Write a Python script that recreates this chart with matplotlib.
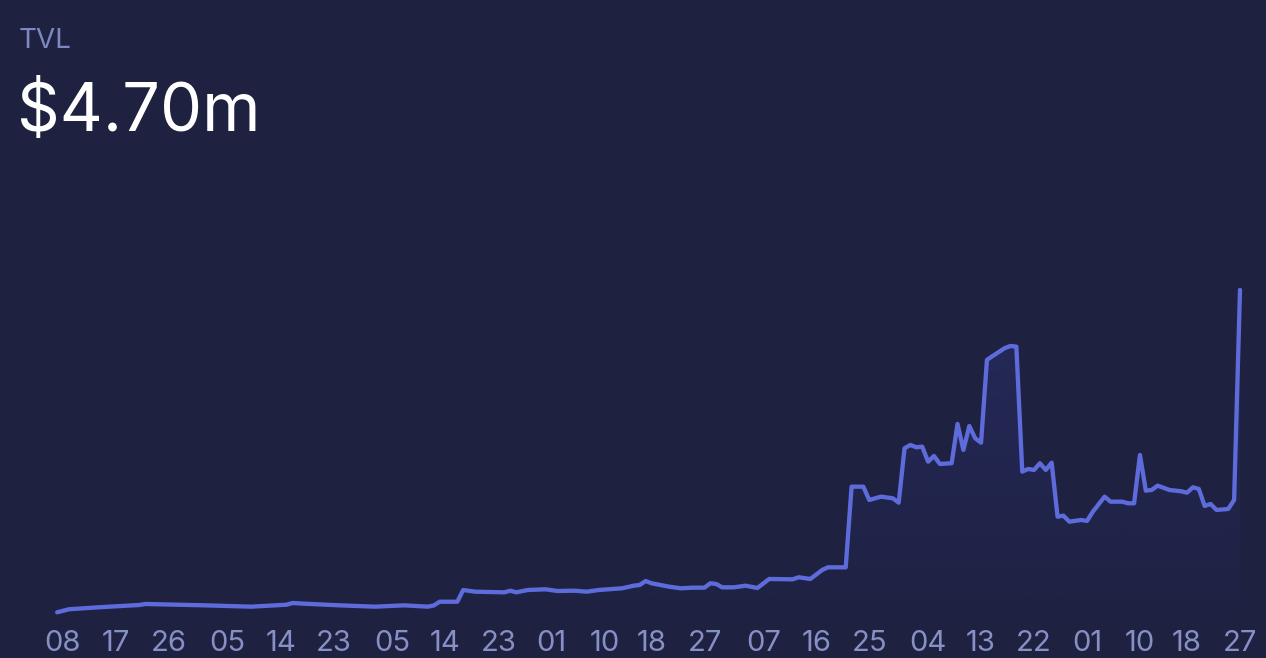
import numpy as np
import matplotlib
matplotlib.use("Agg")
import matplotlib.pyplot as plt
import matplotlib.dates as mdates
from matplotlib.patches import Polygon

# TVL in $m; days counted from 2023-01-08
start = np.datetime64("2023-01-08")
days = [-1, 1, 6, 13, 14, 24, 32, 38, 39, 41, 47, 53, 58, 62, 63, 64, 67,
        68, 70, 75, 76, 77, 79, 82, 84, 87, 89, 91, 95, 97, 98, 99, 100,
        103, 105, 107, 109, 110, 111, 112, 114, 116, 118, 120, 124, 125,
        127, 129, 130, 133, 134, 136, 137, 139, 141, 142, 143, 144, 145,
        146, 147, 148, 149, 151, 152, 153, 154, 155, 156, 157, 158, 160,
        161, 162, 163, 164, 165, 166, 167, 168, 169, 170, 171, 173, 174,
        175, 177, 178, 180, 181, 182, 183, 184, 185, 186, 188, 190, 191,
        192, 193, 194, 195, 196, 198, 199, 200]
tvl = [0.137, 0.180, 0.208, 0.241, 0.255, 0.236, 0.217, 0.245, 0.269, 0.259,
       0.236, 0.217, 0.236, 0.217, 0.234, 0.287, 0.287,
       0.453, 0.429, 0.420, 0.443, 0.420, 0.453, 0.463, 0.439, 0.443, 0.429,
       0.453, 0.477, 0.514, 0.524, 0.580, 0.548,
       0.500, 0.477, 0.486, 0.486, 0.548, 0.538, 0.491, 0.491, 0.514, 0.481,
       0.609, 0.604, 0.633,
       0.609, 0.736, 0.774, 0.774, 1.915, 1.915, 1.727, 1.774, 1.751, 1.689,
       2.459, 2.506, 2.473,
       2.482, 2.269, 2.350, 2.237, 2.247, 2.803, 2.435, 2.775, 2.601, 2.538,
       3.709, 3.766, 3.875,
       3.907, 3.897, 2.128, 2.166, 2.152, 2.247, 2.152, 2.255, 1.491, 1.505,
       1.420, 1.444, 1.430,
       1.562, 1.774, 1.703, 1.703, 1.680, 1.680, 2.364, 1.859, 1.869, 1.930,
       1.869, 1.850, 1.830,
       1.907, 1.883, 1.642, 1.671, 1.586, 1.600, 1.727, 4.70]

tick_days = [0, 9, 18, 28, 37, 46, 56, 65, 74, 83, 92, 100, 109, 119, 128,
             137, 147, 156, 165, 174, 183, 191, 200]

bg = "#1e2140"
line_color = "#5d6bdb"
muted = "#8690c4"

dates = start + np.array(days).astype("timedelta64[D]")
ticks = start + np.array(tick_days).astype("timedelta64[D]")
x = mdates.date2num(dates)

fig = plt.figure(figsize=(12.66, 6.58), dpi=100, facecolor=bg)
ax = fig.add_axes([40 / 1266, 36 / 658, 1220 / 1266, 472 / 658])
ax.set_facecolor(bg)

ax.plot(x, tvl, color=line_color, lw=3.1, solid_joinstyle="round",
        solid_capstyle="round", zorder=3)

# soft gradient under the line
ymax = 6.68
x0 = mdates.date2num(start) + (40 - 63) / 5.885
x1 = mdates.date2num(start) + (1260 - 63) / 5.885
grad = np.linspace(0, 1, 256).reshape(-1, 1)
rgba = np.zeros((256, 1, 4))
rgba[..., :3] = matplotlib.colors.to_rgb("#2a3170")
rgba[..., 3] = 0.55 * grad[:, :1] ** 0.8
im = ax.imshow(rgba, extent=[x.min(), x.max(), 0, max(tvl)], origin="lower",
               aspect="auto", zorder=1)
poly = Polygon(np.column_stack([np.r_[x[0], x, x[-1]],
                                np.r_[0, tvl, 0]]), closed=True,
               transform=ax.transData, facecolor="none", edgecolor="none")
ax.add_patch(poly)
im.set_clip_path(poly)

ax.set_xlim(x0, x1)
ax.set_ylim(0, ymax)
ax.set_xticks(mdates.date2num(ticks))
ax.xaxis.set_major_formatter(mdates.DateFormatter("%d"))
ax.tick_params(axis="x", length=0, pad=6, labelsize=21, labelcolor=muted)
ax.set_yticks([])
for s in ax.spines.values():
    s.set_visible(False)
for lab in ax.get_xticklabels():
    lab.set_family("Inter")

fig.text(19 / 1266, 1 - 41 / 658, "TVL", color="#7c88be", fontsize=20,
         family="Inter", va="center", ha="left")
fig.text(17 / 1266, 1 - 114 / 658, "$4.70m", color="white", fontsize=48,
         family="Inter", va="center", ha="left")

fig.savefig("out.png", dpi=100, facecolor=bg)
